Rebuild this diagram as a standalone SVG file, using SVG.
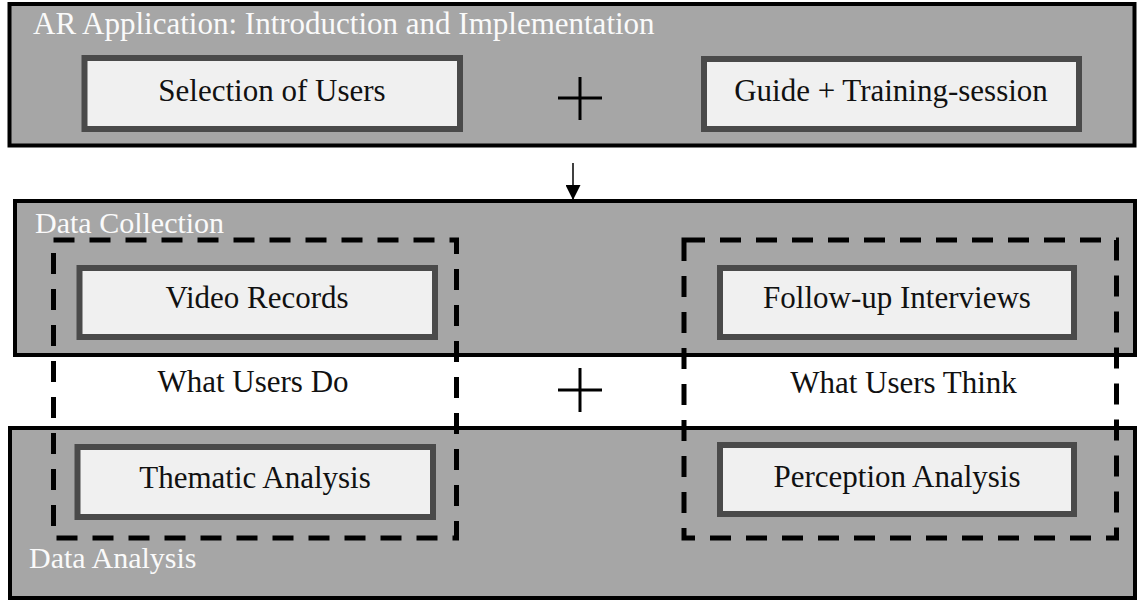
<svg xmlns="http://www.w3.org/2000/svg" width="1138" height="602" viewBox="0 0 1138 602">
<style>
.panel{fill:#a6a6a6;stroke:#000;stroke-width:4}
.box{fill:#f0f0f0;stroke:#4a4a4a;stroke-width:6}
.dash{fill:none;stroke:#000;stroke-width:5;stroke-dasharray:21 15}
.lbl{font-family:"Liberation Serif","Times New Roman",serif;font-size:31px;fill:#111;text-anchor:middle}
.plbl{font-family:"Liberation Serif","Times New Roman",serif;font-size:30px;fill:#fafafa}
.plus{stroke:#000;stroke-width:3}
</style>
<defs>
<marker id="ah" markerWidth="15" markerHeight="15" refX="14" refY="7.5" orient="auto" markerUnits="userSpaceOnUse" viewBox="0 0 15 15">
<path d="M0,0 L15,7.5 L0,15 z" fill="#000"/>
</marker>
</defs>
<rect width="1138" height="602" fill="#fff"/>

<g id="panel-ar">
<rect class="panel" x="9.5" y="4" width="1125" height="141.5"/>
<text class="plbl" x="33" y="34" style="font-size:31px">AR Application: Introduction and Implementation</text>
</g>
<g id="node-selection">
<rect class="box" x="84.5" y="58" width="375.5" height="71"/>
<text class="lbl" x="272" y="101">Selection of Users</text>
</g>
<g id="plus-top">
<line class="plus" x1="558" y1="98" x2="602" y2="98"/>
<line class="plus" x1="580" y1="77" x2="580" y2="120"/>
</g>
<g id="node-guide">
<rect class="box" x="704" y="59" width="375" height="70"/>
<text class="lbl" x="891" y="101">Guide + Training-session</text>
</g>

<g id="panel-collection">
<rect class="panel" x="15" y="201" width="1120" height="154"/>
<text class="plbl" x="35" y="233">Data Collection</text>
</g>
<g id="panel-analysis">
<rect class="panel" x="10" y="428" width="1125" height="170"/>
<text class="plbl" x="29" y="568">Data Analysis</text>
</g>

<g id="node-video">
<rect class="box" x="79.5" y="268" width="355.5" height="69"/>
<text class="lbl" x="257" y="308">Video Records</text>
</g>
<g id="node-followup">
<rect class="box" x="720" y="268" width="354" height="69"/>
<text class="lbl" x="897" y="308">Follow-up Interviews</text>
</g>
<g id="node-thematic">
<rect class="box" x="77.5" y="447" width="355.5" height="70"/>
<text class="lbl" x="255" y="488">Thematic Analysis</text>
</g>
<g id="node-perception">
<rect class="box" x="720" y="445" width="354" height="69"/>
<text class="lbl" x="897" y="487">Perception Analysis</text>
</g>

<g id="group-do">
<rect class="dash" x="53.5" y="240" width="403" height="298"/>
<text class="lbl" x="253" y="392">What Users Do</text>
</g>
<g id="group-think">
<rect class="dash" x="684" y="240" width="432.5" height="298"/>
<text class="lbl" x="903.5" y="393">What Users Think</text>
</g>
<g id="plus-mid">
<line class="plus" x1="558" y1="390" x2="602" y2="390"/>
<line class="plus" x1="580" y1="368" x2="580" y2="412"/>
</g>

<g id="connectors">
<line x1="573" y1="163" x2="573" y2="199" stroke="#000" stroke-width="1.5" marker-end="url(#ah)"/>
</g>
</svg>
